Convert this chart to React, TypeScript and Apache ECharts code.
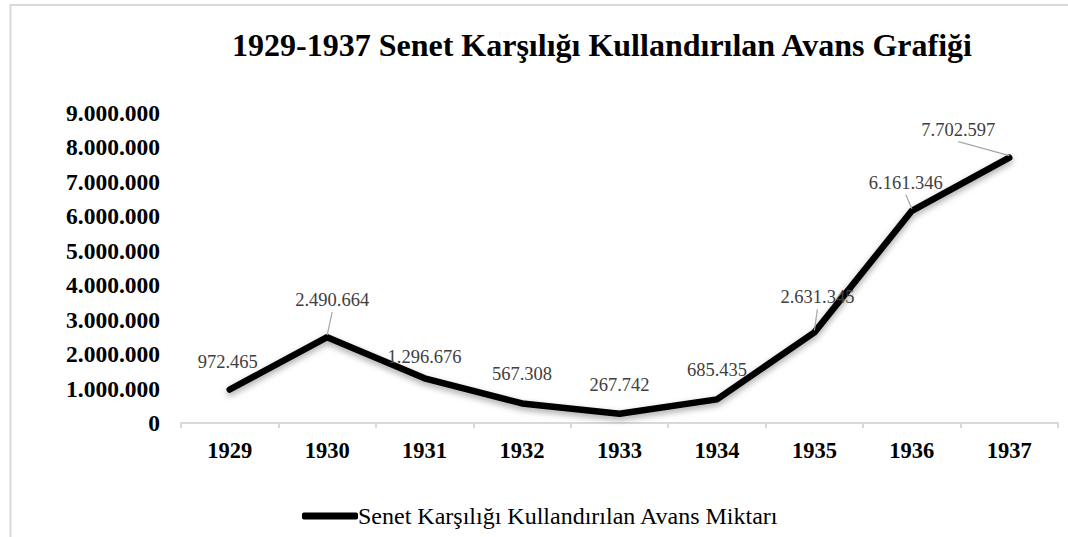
import React, { useEffect, useRef } from "react";
import * as echarts from "echarts";

const years = ["1929", "1930", "1931", "1932", "1933", "1934", "1935", "1936", "1937"];
const amounts = [972465, 2490664, 1296676, 567308, 267742, 685435, 2631345, 6161346, 7702597];
const yTicks = { min: 0, max: 9000000, interval: 1000000 };
const seriesName = "Senet Karşılığı Kullandırılan Avans Miktarı";
const titleText = "1929-1937 Senet Karşılığı Kullandırılan Avans Grafiği";

// label placement relative to each point (px), and whether a leader line is drawn
const labelOffsets: [number, number][] = [
  [-2, -28], [5, -37], [0, -21], [0, -29], [0, -29], [0, -29], [3, -35], [-6, -28], [-51, -28],
];
const leaders = [false, true, false, false, false, false, true, true, true];

const SERIF = "Liberation Serif, Times New Roman, serif";

const fmt = (v: number) => String(v).replace(/\B(?=(\d{3})+(?!\d))/g, ".");

export default function App() {
  const ref = useRef<HTMLDivElement>(null);
  useEffect(() => {
    const chart = echarts.init(ref.current!, null, { renderer: "svg" });
    chart.setOption({
      animation: false,
      backgroundColor: "#ffffff",
      title: {
        text: titleText,
        left: 232,
        top: 29,
        padding: 0,
        textStyle: { fontFamily: SERIF, fontWeight: "bold", fontSize: 32, color: "#000" },
      },
      legend: {
        left: 302,
        top: 504,
        padding: 0,
        itemWidth: 56,
        itemHeight: 7,
        itemGap: 10,
        icon: "roundRect",
        data: [{ name: seriesName, icon: "roundRect", itemStyle: { color: "#000" } }],
        textStyle: { fontFamily: SERIF, fontSize: 24, color: "#000", padding: [0, 0, 0, -5] },
      },
      grid: { left: 181, right: 10, top: 113, bottom: 114, containLabel: false },
      xAxis: {
        type: "category",
        data: years,
        axisLine: { lineStyle: { color: "#d9d9d9", width: 2 } },
        axisTick: { show: true, length: 5, lineStyle: { color: "#d9d9d9", width: 2 } },
        axisLabel: { fontFamily: SERIF, fontWeight: "bold", fontSize: 22.5, color: "#000", margin: 16 },
        splitLine: { show: false },
      },
      yAxis: {
        type: "value",
        min: yTicks.min,
        max: yTicks.max,
        interval: yTicks.interval,
        axisLine: { show: false },
        axisTick: { show: false },
        splitLine: { show: false },
        axisLabel: {
          fontFamily: SERIF,
          fontWeight: "bold",
          fontSize: 23.5,
          color: "#000",
          margin: 21,
          formatter: (v: number) => fmt(v),
        },
      },
      graphic: [
        {
          type: "rect",
          shape: { x: 10.5, y: 5, width: 1200, height: 700 },
          style: { fill: "none", stroke: "#d9d9d9", lineWidth: 2 },
          silent: true,
          z: -1,
        },
      ],
      series: [
        {
          name: seriesName,
          type: "line",
          data: amounts,
          showSymbol: false,
          symbol: "none",
          color: "#000",
          lineStyle: {
            color: "#000",
            width: 6.5,
            cap: "round",
            join: "round",
            shadowColor: "rgba(0,0,0,0.35)",
            shadowBlur: 6,
            shadowOffsetY: 3,
          },
          z: 2,
        },
        {
          name: "labels",
          type: "custom",
          data: amounts.map((v, i) => [i, v]),
          silent: true,
          z: 3,
          renderItem: (params: any, api: any) => {
            const i = params.dataIndex;
            const p = api.coord([api.value(0), api.value(1)]);
            const [dx, dy] = labelOffsets[i];
            const lx = p[0] + dx;
            const ly = p[1] + dy;
            const children: any[] = [];
            if (leaders[i]) {
              children.push({
                type: "line",
                shape: { x1: lx, y1: ly + 12, x2: p[0], y2: p[1] - 2 },
                style: { stroke: "#a6a6a6", lineWidth: 1.2 },
              });
            }
            children.push({
              type: "text",
              style: {
                text: fmt(amounts[i]),
                x: lx,
                y: ly,
                align: "center",
                verticalAlign: "middle",
                fill: "#404040",
                fontFamily: SERIF,
                fontSize: 18.5,
              },
            });
            return { type: "group", children };
          },
        },
      ],
    });
    return () => chart.dispose();
  }, []);
  return (
    <div
      ref={ref}
      style={{ position: "fixed", left: 0, top: 0, width: 1068, height: 537 }}
    />
  );
}
